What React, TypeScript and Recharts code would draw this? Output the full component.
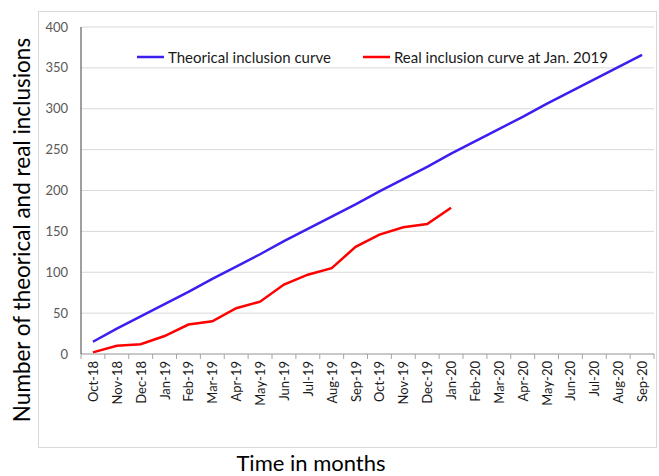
import {
  LineChart,
  Line,
  XAxis,
  YAxis,
  CartesianGrid,
  Legend,
} from "recharts";

const months = [
  "Oct-18", "Nov-18", "Dec-18", "Jan-19", "Feb-19", "Mar-19", "Apr-19", "May-19",
  "Jun-19", "Jul-19", "Aug-19", "Sep-19", "Oct-19", "Nov-19", "Dec-19", "Jan-20",
  "Feb-20", "Mar-20", "Apr-20", "May-20", "Jun-20", "Jul-20", "Aug-20", "Sep-20",
];

const theorical = [
  15, 31, 46, 61, 76, 92, 107, 122, 138, 153, 168, 183,
  199, 214, 229, 245, 260, 275, 290, 306, 321, 336, 351, 366,
];

const real = [2, 10, 12, 22, 36, 40, 56, 64, 85, 97, 105, 131, 146, 155, 159, 179];

const yTicks = [0, 50, 100, 150, 200, 250, 300, 350, 400];

const data = months.map((m, i) => ({
  month: m,
  theorical: theorical[i],
  real: i < real.length ? real[i] : null,
}));

const W = 659;
const H = 476;
const LEFT = 81;
const RIGHT = 5;
const HALF = (W - LEFT - RIGHT) / months.length / 2;
const FONT = "Lato, 'Open Sans', sans-serif";

const BLUE = "#3a1ff0";
const RED = "#ff0000";

const MonthTick = (props: any) => {
  const { x, y, payload, index } = props;
  return (
    <g>
      <line x1={x - HALF} x2={x - HALF} y1={y} y2={y + 5} stroke="#a6a6a6" />
      {index === months.length - 1 && (
        <line x1={x + HALF} x2={x + HALF} y1={y} y2={y + 5} stroke="#a6a6a6" />
      )}
      <text
        transform={`translate(${x}, ${y + 7}) rotate(-90)`}
        textAnchor="end"
        dominantBaseline="central"
        fontSize={13}
        fill="#1a1a1a"
        fontFamily={FONT}
      >
        {payload.value}
      </text>
    </g>
  );
};

const LegendContent = () => {
  const items = [
    { label: "Theorical inclusion curve", color: BLUE },
    { label: "Real inclusion curve at Jan. 2019", color: RED },
  ];
  return (
    <div style={{ display: "flex", alignItems: "center", fontFamily: FONT, fontSize: 15, color: "#1a1a1a" }}>
      {items.map((it, i) => (
        <div key={it.label} style={{ display: "flex", alignItems: "center", marginRight: i === 0 ? 32 : 0 }}>
          <svg width={27} height={4} style={{ marginRight: 4 }}>
            <line x1={0} x2={27} y1={2} y2={2} stroke={it.color} strokeWidth={2.5} />
          </svg>
          <span style={{ whiteSpace: "nowrap" }}>{it.label}</span>
        </div>
      ))}
    </div>
  );
};

const App = () => {
  return (
    <div style={{ position: "absolute", left: 0, top: 0, width: W, height: H, background: "#fff" }}>
      <div
        style={{
          position: "absolute",
          left: 38,
          top: 11,
          width: 619,
          height: 437,
          border: "1.5px solid #d9d9d9",
          boxSizing: "border-box",
        }}
      />
      <LineChart
        width={W}
        height={H}
        data={data}
        margin={{ top: 27, right: RIGHT, left: 0, bottom: 0 }}
        style={{ position: "absolute", left: 0, top: 0 }}
      >
        <CartesianGrid vertical={false} stroke="#d9d9d9" />
        <XAxis
          dataKey="month"
          height={122}
          padding={{ left: HALF, right: HALF }}
          interval={0}
          tickLine={false}
          tickSize={0}
          tickMargin={0}
          stroke="#a6a6a6"
          tick={<MonthTick />}
          label={{
            content: () => (
              <text x={311} y={462} textAnchor="middle" dominantBaseline="central" fontSize={22} fontFamily={FONT} fill="#000">
                Time in months
              </text>
            ),
          }}
        />
        <YAxis
          width={LEFT}
          domain={[0, 400]}
          ticks={yTicks}
          interval={0}
          tickLine={false}
          tickSize={0}
          tickMargin={13}
          stroke="#404040"
          tick={{ fontSize: 13, fill: "#595959", fontFamily: FONT }}
          label={{
            content: () => (
              <text
                x={21}
                y={230}
                transform="rotate(-90 21 230)"
                textAnchor="middle"
                dominantBaseline="central"
                fontSize={22.5}
                fontFamily={FONT}
                fill="#000"
              >
                Number of theorical and real inclusions
              </text>
            ),
          }}
        />
        <Legend
          layout="horizontal"
          verticalAlign="middle"
          align="center"
          content={<LegendContent />}
          wrapperStyle={{ top: 48, left: 137, width: 520 }}
        />
        <Line
          dataKey="theorical"
          name="Theorical inclusion curve"
          stroke={BLUE}
          strokeWidth={2.5}
          dot={false}
          isAnimationActive={false}
        />
        <Line
          dataKey="real"
          name="Real inclusion curve at Jan. 2019"
          stroke={RED}
          strokeWidth={2.5}
          dot={false}
          isAnimationActive={false}
        />
      </LineChart>
    </div>
  );
};

export default App;
